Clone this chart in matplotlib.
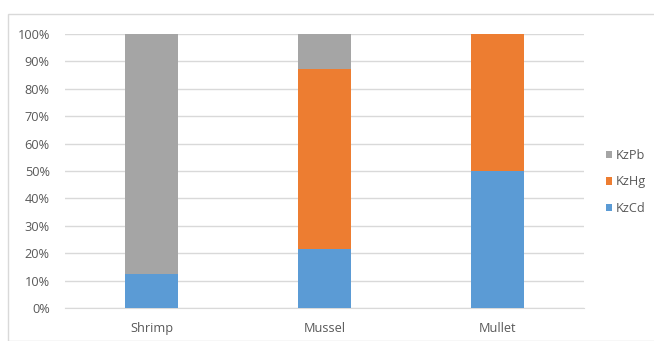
import numpy as np
import matplotlib.pyplot as plt
from matplotlib.patches import Rectangle

# Share of each metal (fraction of total)
species = ["Shrimp", "Mussel", "Mullet"]
kz_cd = [12.4, 21.4, 50.0]
kz_hg = [0.0, 65.7, 50.0]
kz_pb = [87.6, 12.9, 0.0]

col_cd = "#5b9bd5"
col_hg = "#ed7d31"
col_pb = "#a5a5a5"
text_col = "#595959"

plt.rcParams['font.family'] = ['Open Sans', 'DejaVu Sans']

W, H = 654, 341
fig = plt.figure(figsize=(W / 100, H / 100), dpi=100)
# chart border
fig.patches.append(Rectangle((8 / W, 0), 1.0, 1 - 14 / H, transform=fig.transFigure,
                             fill=False, edgecolor="#d9d9d9", lw=1.0))

ax = fig.add_axes([65 / W, 1 - 308 / H, 519 / W, 274 / H])
x = np.arange(len(species))
cd = np.array(kz_cd)
hg = np.array(kz_hg)
pb = np.array(kz_pb)
w = 0.312
b_cd = ax.bar(x, cd, w, color=col_cd, label="KzCd", zorder=3)
b_hg = ax.bar(x, hg, w, bottom=cd, color=col_hg, label="KzHg", zorder=3)
b_pb = ax.bar(x, pb, w, bottom=cd + hg, color=col_pb, label="KzPb", zorder=3)

ax.set_xlim(-0.5, 2.5)
ax.set_ylim(0, 100)
ax.set_yticks(np.arange(0, 101, 10))
ax.set_yticklabels([f"{v}%" for v in range(0, 101, 10)])
ax.set_xticks(x)
ax.set_xticklabels(species)
ax.yaxis.grid(True, color="#d9d9d9", lw=1.0, zorder=0)
for s in ax.spines.values():
    s.set_visible(False)
ax.spines['bottom'].set_visible(True)
ax.spines['bottom'].set_color("#d9d9d9")
ax.tick_params(length=0, colors=text_col, labelsize=9.2)
ax.tick_params(axis='y', pad=11)
ax.tick_params(axis='x', pad=10)

leg = fig.legend(handles=[b_pb, b_hg, b_cd], labels=["KzPb", "KzHg", "KzCd"],
                 loc="center left", bbox_to_anchor=(606 / W, 1 - 182 / H),
                 frameon=False, fontsize=9.2, handlelength=0.5, handleheight=0.5,
                 handletextpad=0.25, labelspacing=1.05, borderaxespad=0, borderpad=0)
for t in leg.get_texts():
    t.set_color(text_col)

fig.savefig("out.png", dpi=100)
